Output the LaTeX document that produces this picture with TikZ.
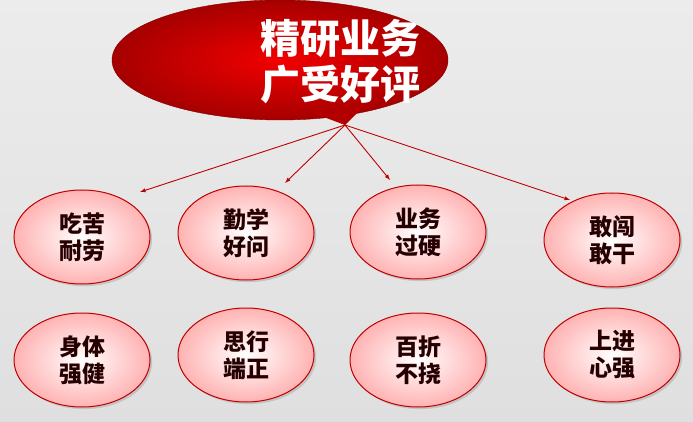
\documentclass[tikz,border=0pt]{standalone}
\usepackage{fontspec}
\newfontfamily\cjk{Noto Sans CJK SC}
\usetikzlibrary{shadows,shapes.geometric}
\begin{document}
\begin{tikzpicture}[x=1pt,y=-1pt,
  bub/.style={ellipse,draw=red!75!black,line width=1pt,inner color=white,outer color=red!30,minimum width=136pt,minimum height=94pt,font=\cjk\fontsize{23}{27}\selectfont\bfseries,text=black!85!red,align=center,drop shadow={opacity=0.3}},
  arr/.style={-latex,red!75!black,line width=0.9pt}]
\shade[top color=gray!15,bottom color=gray!25] (0,0) rectangle (693,422);
\useasboundingbox (0,0) rectangle (693,422);
\shade[inner color=red!95!black,outer color=red!65!black,draw=red!50!black]
  (280,60) ellipse [x radius=168, y radius=60];
\fill[red!70!black] (305,110) -- (345,125) -- (365,105) -- cycle;
\node[text=white,font=\cjk\fontsize{40}{46}\selectfont\bfseries,align=center] (top) at (340,62) {精研业务\\广受好评};
\coordinate (tip) at (345,125);
\node[bub] (a1) at (82,237) {吃苦\\耐劳};
\node[bub] (a2) at (246,233) {勤学\\好问};
\node[bub] (a3) at (418,232) {业务\\过硬};
\node[bub] (a4) at (612,240) {敢闯\\敢干};
\node[bub] (b1) at (82,360) {身体\\强健};
\node[bub] (b2) at (246,355) {思行\\端正};
\node[bub] (b3) at (418,360) {百折\\不挠};
\node[bub] (b4) at (612,355) {上进\\心强};
\draw[arr] (tip) -- (140,192);
\draw[arr] (tip) -- (285,183);
\draw[arr] (tip) -- (390,180);
\draw[arr] (tip) -- (570,200);
\end{tikzpicture}
\end{document}
